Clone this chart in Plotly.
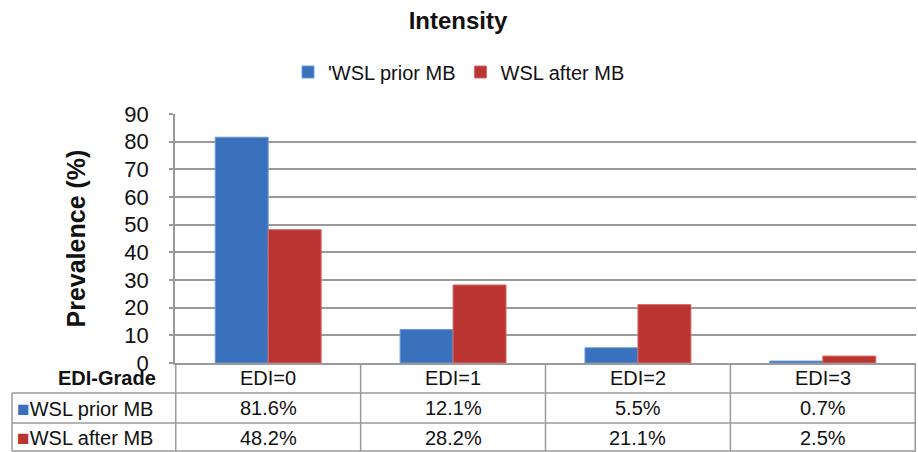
import plotly.graph_objects as go

categories = ["EDI=0", "EDI=1", "EDI=2", "EDI=3"]
prior_values = [81.6, 12.1, 5.5, 0.7]
after_values = [48.2, 28.2, 21.1, 2.5]
prior_labels = ["81.6%", "12.1%", "5.5%", "0.7%"]
after_labels = ["48.2%", "28.2%", "21.1%", "2.5%"]
series_names = ["WSL prior MB", "WSL after MB"]
legend_names = ["'WSL prior MB", "WSL after MB"]
series_colors = ["#3A71BC", "#BA3531"]
line_colors = ["#6A9BDA", "#D86A66"]

FONT = "Liberation Sans, Arial, sans-serif"
GRID = "#9A9A9A"
TXT = "#111111"

W, H = 918, 452
ML, MR, MT, MB = 175, 2, 114, 89
pw = W - ML - MR
ph = H - MT - MB

def py(pix):
    # pixel y (from top) -> paper y
    return (H - MB - pix) / ph

def px(pix):
    return (pix - ML) / pw

fig = go.Figure()
for vals, nm, c, lc in zip([prior_values, after_values], legend_names, series_colors, line_colors):
    fig.add_trace(go.Bar(
        x=categories, y=vals, name=nm,
        marker=dict(color=c, line=dict(color=lc, width=1)),
    ))

# table lines
row_lines = [393, 423, 451]
shapes = []
for rl in row_lines:
    shapes.append(dict(type="line", xref="paper", yref="paper",
                       x0=px(12), x1=1, y0=py(rl), y1=py(rl),
                       line=dict(color=GRID, width=1.5)))
n = len(categories)
for i in range(n + 1):
    shapes.append(dict(type="line", xref="x", yref="paper",
                       x0=i - 0.5, x1=i - 0.5, y0=py(451), y1=0,
                       line=dict(color=GRID, width=1.5)))
shapes.append(dict(type="line", xref="paper", yref="paper",
                   x0=px(12), x1=px(12), y0=py(451), y1=py(393),
                   line=dict(color=GRID, width=1.5)))

annotations = []
for cat in categories:
    annotations.append(dict(x=cat, xref="x", xanchor="center",
                            y=py(377.5), yref="paper", yanchor="middle",
                            text=cat, showarrow=False,
                            font=dict(family=FONT, size=20, color=TXT)))
row_centers = [408, 437.5]
for labels, yc in zip([prior_labels, after_labels], row_centers):
    for cat, lab in zip(categories, labels):
        annotations.append(dict(x=cat, xref="x", xanchor="center",
                                y=py(yc), yref="paper", yanchor="middle",
                                text=lab, showarrow=False,
                                font=dict(family=FONT, size=20, color=TXT)))
for nm, c, yc in zip(series_names, series_colors, row_centers):
    annotations.append(dict(x=px(15), xref="paper", xanchor="left",
                            y=py(yc), yref="paper", yanchor="middle", showarrow=False,
                            text=f"<span style='color:{c};font-size:21px'>■</span>{nm}",
                            font=dict(family=FONT, size=20, color=TXT)))
annotations.append(dict(x=px(158), xref="paper", xanchor="right",
                        y=py(377.5), yref="paper", yanchor="middle", showarrow=False,
                        text="<b>EDI-Grade</b>",
                        font=dict(family=FONT, size=20, color=TXT)))
annotations.append(dict(x=px(75), xref="paper", xanchor="center",
                        y=0.5, yref="paper", yanchor="middle",
                        textangle=-90, showarrow=False,
                        text="<b>Prevalence (%)</b>",
                        font=dict(family=FONT, size=25, color=TXT)))

fig.update_layout(
    width=W, height=H,
    margin=dict(l=ML, r=MR, t=MT, b=MB),
    paper_bgcolor="white", plot_bgcolor="white",
    barmode="group", bargap=0.427, bargroupgap=0,
    title=dict(text="<b>Intensity</b>", x=458 / W, xref="container",
               y=1 - 21 / H, yref="container", xanchor="center", yanchor="middle",
               font=dict(family=FONT, size=24, color=TXT)),
    legend=dict(orientation="h", x=0.5, xref="container", xanchor="center",
                y=1 - 72 / H, yref="container", yanchor="middle",
                font=dict(family=FONT, size=20, color=TXT),
                itemwidth=30, traceorder="normal"),
    font=dict(family=FONT, color=TXT),
    shapes=shapes,
    annotations=annotations,
)
fig.update_xaxes(showline=True, linecolor=GRID, linewidth=1.5,
                 showticklabels=False, ticks="")
fig.update_yaxes(range=[0, 90], dtick=10, showgrid=True, gridcolor=GRID, gridwidth=1.5,
                 showline=True, linecolor=GRID, linewidth=1.5,
                 ticks="outside", ticklen=4, tickcolor=GRID, tickwidth=1.5,
                 ticklabelstandoff=16,
                 tickfont=dict(family=FONT, size=22, color=TXT),
                 zeroline=False)

fig.write_html("out.html", config={"displayModeBar": False},
               post_script="document.body.style.margin='0';")
